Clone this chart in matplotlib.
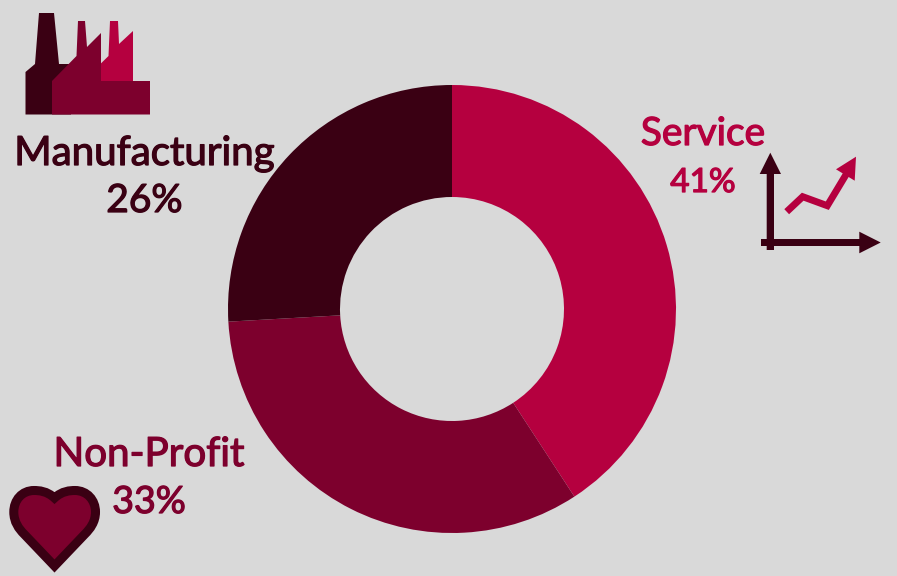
import matplotlib
matplotlib.use("Agg")
import matplotlib.pyplot as plt
import matplotlib.patheffects as pe
from matplotlib.patches import Polygon, PathPatch
from matplotlib.path import Path

# data
categories = ["Service", "Non-Profit", "Manufacturing"]
shares = [40.8, 33.3, 25.9]
colors = ["#B5003F", "#7D002D", "#3A0013"]
bg = "#D9D9D9"

plt.rcParams['font.family'] = ['Lato', 'DejaVu Sans']

W, H = 897, 576
fig = plt.figure(figsize=(W / 100, H / 100), dpi=100, facecolor=bg)

# donut, centre (452,309), radius 224 px
ax = fig.add_axes([228 / W, (H - 533) / H, 448 / W, 448 / H])
ax.pie(shares, colors=colors, startangle=90, counterclock=False, radius=1,
       wedgeprops=dict(width=0.5, linewidth=0))
ax.set_xlim(-1, 1)
ax.set_ylim(-1, 1)

# overlay in pixel coordinates for labels and icons
ov = fig.add_axes([0, 0, 1, 1], facecolor='none')
ov.set_xlim(0, W)
ov.set_ylim(H, 0)
ov.axis('off')

# labels: x, name baseline, name size, percent baseline, percent size
label_pos = [(703, 145, 28, 192, 24), (149, 466, 29, 513, 27), (144.5, 165, 29, 212, 28)]
for cat, val, col, (x, y1, s1, y2, s2) in zip(categories, shares, colors, label_pos):
    thick = [pe.withStroke(linewidth=0.9, foreground=col)]
    ov.text(x, y1, cat, color=col, fontsize=s1, ha='center', va='baseline', path_effects=thick)
    ov.text(x, y2, f"{val:.0f}%", color=col, fontsize=s2, ha='center', va='baseline', path_effects=thick)

# factory icon
ov.add_patch(Polygon([(25.5, 114.5), (25.5, 72), (35, 64), (39, 13), (54, 13), (59, 64),
                      (71, 64), (71, 114.5)], closed=True, fc=colors[2], lw=0))
ov.add_patch(Polygon([(83, 81), (108.5, 56), (110, 21), (118, 21), (119, 44), (133, 31),
                      (133, 81)], closed=True, fc=colors[0], lw=0))
ov.add_patch(Polygon([(52, 114.5), (52, 81), (76.5, 56), (78, 21), (85, 21), (87, 47),
                      (101, 33), (101, 81), (150, 81), (150, 114.5)],
                     closed=True, fc=colors[1], lw=0))

# growth chart icon
ov.add_patch(Polygon([(766.7, 250), (766.7, 174), (759.7, 174), (770.3, 152.7), (781, 174),
                      (774, 174), (774, 250)], closed=True, fc=colors[2], lw=0))
ov.add_patch(Polygon([(761, 239), (859.3, 239), (859.3, 231.7), (880.7, 242.5), (859.3, 253.3),
                      (859.3, 246), (761, 246)], closed=True, fc=colors[2], lw=0))
ov.plot([786.7, 802.7, 827.3, 847], [211.7, 196.7, 205.7, 173], color=colors[0], lw=5,
        solid_joinstyle='miter', solid_capstyle='butt')
ov.add_patch(Polygon([(856, 156.7), (836, 169.3), (854.7, 180.7)], closed=True, fc=colors[0], lw=0))

# heart icon
heart = [
    (Path.MOVETO, (54.5, 498)),
    (Path.CURVE4, (62, 491)), (Path.CURVE4, (70, 490.5)), (Path.CURVE4, (75, 490.5)),
    (Path.CURVE4, (87, 490.5)), (Path.CURVE4, (95.5, 500)), (Path.CURVE4, (95.5, 512)),
    (Path.CURVE4, (95.5, 522)), (Path.CURVE4, (90, 529)), (Path.CURVE4, (85, 534)),
    (Path.LINETO, (54.5, 566)),
    (Path.LINETO, (24, 534)),
    (Path.CURVE4, (19, 529)), (Path.CURVE4, (13.8, 522)), (Path.CURVE4, (13.8, 512)),
    (Path.CURVE4, (13.8, 500)), (Path.CURVE4, (22, 490.5)), (Path.CURVE4, (34, 490.5)),
    (Path.CURVE4, (39, 490.5)), (Path.CURVE4, (47, 491)), (Path.CURVE4, (54.5, 498)),
    (Path.CLOSEPOLY, (54.5, 498)),
]
codes, verts = zip(*heart)
ov.add_patch(PathPatch(Path(verts, codes), fc=colors[1], ec=colors[2], lw=6.5, joinstyle='miter'))

fig.savefig("out.png", dpi=100, facecolor=bg)
